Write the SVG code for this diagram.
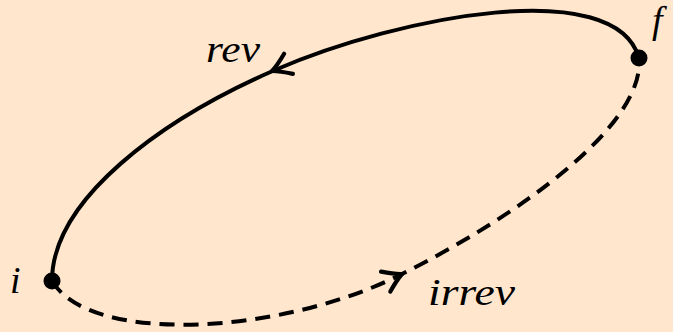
<svg xmlns="http://www.w3.org/2000/svg" width="673" height="332" viewBox="0 0 673 332">
<style>
.c{fill:none;stroke:#000;stroke-width:4;stroke-linecap:butt}
.d{stroke-dasharray:15,9}
.a{fill:none;stroke:#000;stroke-width:4.2;stroke-linecap:round;stroke-linejoin:round}
text{font-style:italic;fill:#000}
</style>
<rect width="673" height="332" fill="#FFE6CC"/>
<g id="connectors">
<path class="c" d="M52,281 C52,200 160,120 275,70 C400,16 615,-25 639,58"/>
<path class="c d" d="M52,281 C90,345 280,335 400,275 C520,215 645,125 639,58"/>
<path class="a" transform="translate(272,71) rotate(156.5)" d="M-18,-11 Q-7,-3 0,0 Q-7,3 -18,11"/>
<path class="a" transform="translate(402,274) rotate(-25)" d="M-18,-11 Q-7,-3 0,0 Q-7,3 -18,11"/>
</g>
<g id="node-i"><circle cx="52" cy="281" r="8.5"/><text font-family="Liberation Serif, serif" font-size="38" x="10" y="293">i</text></g>
<g id="node-f"><circle cx="639" cy="58" r="8.5"/><text font-family="Liberation Serif, serif" font-size="38" x="652" y="33">f</text></g>
<g id="label-rev"><text font-family="Liberation Serif, serif" font-size="38" x="206" y="62" textLength="54" lengthAdjust="spacingAndGlyphs">rev</text></g>
<g id="label-irrev"><text font-family="Liberation Serif, serif" font-size="38" x="428" y="305" textLength="87" lengthAdjust="spacingAndGlyphs">irrev</text></g>
</svg>
